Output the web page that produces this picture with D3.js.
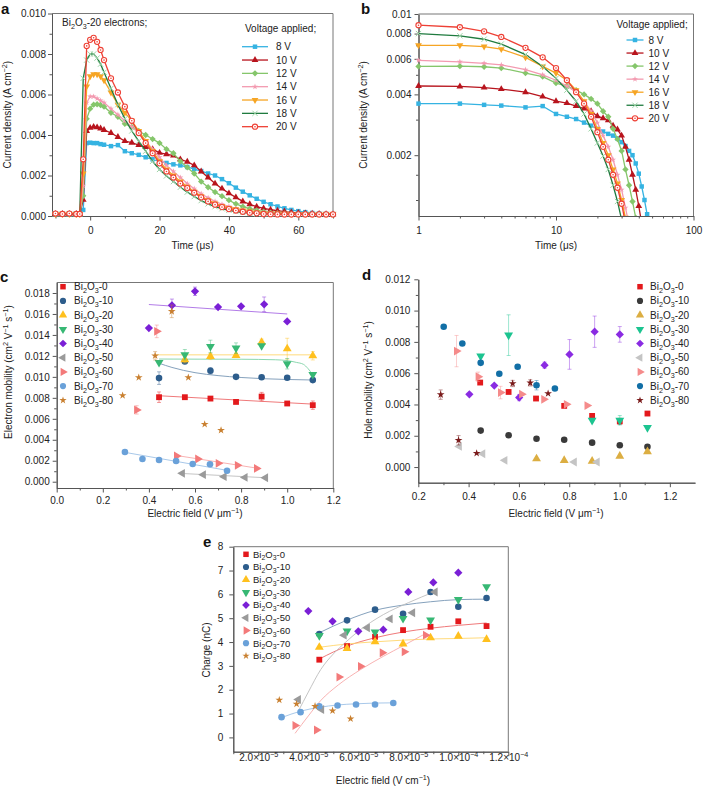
<!DOCTYPE html>
<html>
<head>
<meta charset="utf-8">
<script src="https://cdn.jsdelivr.net/npm/d3@7/dist/d3.min.js"></script>
<style>
  body { margin: 0; background: #fff; }
  svg { font-family: "Liberation Sans", Arial, sans-serif; }
</style>
</head>
<body>
<div id="fig"></div>
<script>
const width = 703
const height = 787
const font = "Liberation Sans, Arial, sans-serif"
const axisColor = "#555"
const boxColor = "#777"

// ---- a, b : transient current density, Bi2O3-20 electrons
const voltages = ["8 V", "10 V", "12 V", "14 V", "16 V", "18 V", "20 V"]
const timeA = [-10, -8, -6, -4, -3, -2, -1, 0, 1, 2, 3, 4, 6, 8, 10, 12, 14, 16, 18, 20, 22, 24, 26, 28, 30,
    32, 34, 36, 38, 40, 42, 44, 46, 48, 50, 52, 54, 56, 58, 60, 62, 64, 66, 68, 70]
const cur8 = [0.0001, 0.0001, 0.00009, 0.0001, 0.0001, 0.0003, 0.0036, 0.00362, 0.0036, 0.0036, 0.00355, 0.00352,
    0.00345, 0.0035, 0.0032, 0.0031, 0.00302, 0.0029, 0.0028, 0.0027, 0.00262, 0.00255, 0.0025, 0.00242, 0.00232,
    0.00222, 0.0021, 0.002, 0.00182, 0.00162, 0.0014, 0.0012, 0.00102, 0.00085, 0.0007, 0.00058, 0.00047, 0.00038,
    0.0003, 0.00024, 0.00019, 0.00015, 0.00012, 0.0001, 0.00009]
const cur10 = [0.0001, 0.0001, 0.0001, 0.0001, 0.0001, 0.0008, 0.0042, 0.00435, 0.0044, 0.00438, 0.00432, 0.00425,
    0.0041, 0.0039, 0.0037, 0.00362, 0.0035, 0.0034, 0.0033, 0.00312, 0.00305, 0.00298, 0.0028, 0.00268, 0.0025,
    0.0022, 0.0019, 0.0016, 0.00135, 0.00112, 0.00092, 0.00072, 0.00058, 0.00046, 0.00038, 0.00031, 0.00026,
    0.00022, 0.00018, 0.00015, 0.00013, 0.00011, 0.0001, 0.00009, 0.00008]
const cur12 = [0.00008, 0.0001, 0.0001, 0.00008, 0.0001, 0.001, 0.0048, 0.0053, 0.0055, 0.00552, 0.00548, 0.0054,
    0.0051, 0.0049, 0.00455, 0.0044, 0.0042, 0.004, 0.0038, 0.0036, 0.0033, 0.0031, 0.0027, 0.0024, 0.0021,
    0.0017, 0.00142, 0.00118, 0.00098, 0.00078, 0.0006, 0.00046, 0.00036, 0.00028, 0.00021, 0.00017, 0.00014,
    0.00012, 0.0001, 0.00009, 0.00009, 0.00008, 0.00008, 0.00008, 0.00008]
const cur14 = [0.0001, 0.0001, 0.0001, 0.0001, 0.0001, 0.0015, 0.0056, 0.0059, 0.0059, 0.0058, 0.0057, 0.0056,
    0.0053, 0.005, 0.0047, 0.0044, 0.0041, 0.0037, 0.0033, 0.0029, 0.0025, 0.0022, 0.0019, 0.0016, 0.00135,
    0.0011, 0.0009, 0.00072, 0.00058, 0.00047, 0.00038, 0.00031, 0.00025, 0.0002, 0.00016, 0.00014, 0.00012,
    0.0001, 0.0001, 0.00009, 0.00009, 0.00008, 0.00008, 0.00008, 0.00008]
const cur16 = [0.0001, 0.0001, 0.0001, 0.0001, 0.0001, 0.0021, 0.0064, 0.0069, 0.007, 0.007, 0.0069, 0.0067,
    0.0061, 0.0055, 0.0051, 0.0047, 0.0042, 0.0037, 0.0032, 0.0027, 0.0023, 0.002, 0.0017, 0.00145, 0.0012,
    0.00098, 0.00078, 0.00062, 0.0005, 0.0004, 0.00033, 0.00027, 0.00022, 0.00018, 0.00015, 0.00013, 0.00012,
    0.00011, 0.0001, 0.0001, 0.0001, 0.0001, 0.0001, 0.0001, 0.0001]
const cur18 = [0.0001, 0.0001, 0.0001, 0.0001, 0.0001, 0.0068, 0.0077, 0.008, 0.008, 0.0078, 0.0075, 0.0071,
    0.0063, 0.0055, 0.0048, 0.0042, 0.0037, 0.0032, 0.0027, 0.0023, 0.00198, 0.0017, 0.00142, 0.00118, 0.00096,
    0.00076, 0.0006, 0.00046, 0.00036, 0.00028, 0.00022, 0.00017, 0.00014, 0.00011, 0.0001, 0.00009, 0.00008,
    0.00008, 0.00008, 0.00008, 0.00008, 0.00008, 0.00008, 0.00008, 0.00008]
const cur20 = [0.00012, 0.0001, 0.00012, 0.0001, 0.0001, 0.0028, 0.0084, 0.0087, 0.0088, 0.0086, 0.0082, 0.0077,
    0.0068, 0.0061, 0.0054, 0.0047, 0.0041, 0.0036, 0.0031, 0.0026, 0.0022, 0.0019, 0.0016, 0.00138, 0.00115,
    0.00092, 0.00072, 0.00056, 0.00044, 0.00034, 0.00027, 0.00021, 0.00016, 0.00013, 0.0001, 0.00009, 0.00008,
    0.00008, 0.00008, 0.00008, 0.00008, 0.00008, 0.00008, 0.00008, 0.00008]
const currents = [cur8, cur10, cur12, cur14, cur16, cur18, cur20]

// ---- c, d, e : [field, value, error]
const samples = ["0", "10", "20", "30", "40", "50", "60", "70", "80"]

const eMob0 = [[0.444, 0.00806, 0.0005], [0.556, 0.00806], [0.667, 0.00793], [0.778, 0.00761], [0.889, 0.00812, 0.0004], [1.0, 0.00746], [1.111, 0.0073, 0.0004]]
const eMob10 = [[0.444, 0.00988, 0.0006], [0.556, 0.01147], [0.667, 0.01058, 0.0003], [0.778, 0.01], [0.889, 0.00997], [1.0, 0.00991], [1.111, 0.00969]]
const eMob20 = [[0.556, 0.01163, 0.0003], [0.667, 0.01195, 0.0003], [0.778, 0.01205], [0.889, 0.0133, 0.0003], [1.0, 0.01268, 0.001], [1.111, 0.01201, 0.0004]]
const eMob30 = [[0.444, 0.01137], [0.556, 0.01211, 0.0005], [0.667, 0.0129, 0.0006], [0.778, 0.01274, 0.0005], [0.889, 0.01297], [1.0, 0.01125, 0.0005], [1.111, 0.01023]]
const eMob40 = [[0.4, 0.01466], [0.5, 0.01682, 0.0006], [0.6, 0.01816, 0.0004], [0.7, 0.01666], [0.8, 0.01673], [0.9, 0.01692, 0.0007], [1.0, 0.01529]]
const eMob50 = [[0.545, 0.0008], [0.636, 0.00067], [0.726, 0.00048], [0.817, 0.00041], [0.906, 0.00038]]
const eMob60 = [[0.347, 0.00685, 0.0004], [0.434, 0.01434, 0.0006], [0.52, 0.00245], [0.612, 0.00217], [0.701, 0.00175], [0.784, 0.00156], [0.867, 0.00127]]
const eMob70 = [[0.296, 0.00284], [0.372, 0.00217], [0.444, 0.00207], [0.518, 0.00198], [0.59, 0.00169], [0.665, 0.00166], [0.739, 0.00105]]
const eMob80 = [[0.286, 0.00822], [0.356, 0.00994], [0.427, 0.01201, 0.0004], [0.499, 0.01625, 0.0006], [0.571, 0.00994], [0.642, 0.00548], [0.713, 0.00491]]
const eMob = [eMob0, eMob10, eMob20, eMob30, eMob40, eMob50, eMob60, eMob70, eMob80]

// fitted curves drawn in c, [sample index, points]
const eFit0 = [[0.444, 0.0082], [1.111, 0.0074]]
const eFit10 = [[0.444, 0.0113], [0.5, 0.0109], [0.6, 0.0104], [0.7, 0.01012], [0.8, 0.00994], [0.9, 0.00982], [1.0, 0.00975], [1.111, 0.0097]]
const eFit20 = [[0.43, 0.0121], [1.111, 0.0121]]
const eFit30 = [[0.444, 0.0117], [0.6, 0.01169], [0.8, 0.01168], [0.95, 0.01163], [1.0, 0.01155], [1.04, 0.01138], [1.07, 0.0112], [1.09, 0.0108], [1.111, 0.0102]]
const eFit40 = [[0.4, 0.0169], [1.0, 0.016]]
const eFit50 = [[0.53, 0.0008], [0.906, 0.00038]]
const eFit60 = [[0.52, 0.0025], [0.867, 0.0013]]
const eFit70 = [[0.296, 0.0028], [0.74, 0.00108]]
const eFits = [[0, eFit0], [1, eFit10], [2, eFit20], [3, eFit30], [4, eFit40], [5, eFit50], [6, eFit60], [7, eFit70]]

const hMob0 = [[0.446, 0.0054], [0.559, 0.0048], [0.668, 0.00438], [0.78, 0.00391], [0.891, 0.00327], [1.001, 0.00292, 0.0002], [1.111, 0.00342]]
const hMob10 = [[0.448, 0.00233], [0.559, 0.00203], [0.67, 0.00181], [0.78, 0.00175], [0.891, 0.00156], [1.001, 0.00139], [1.111, 0.0013]]
const hMob20 = [[0.67, 0.00053], [0.78, 0.00043], [0.891, 0.00038], [1.001, 0.0007], [1.111, 0.00098]]
const hMob30 = [[0.448, 0.00709], [0.559, 0.00843, 0.0013], [0.891, 0.00299], [1.001, 0.00299, 0.0003], [1.111, 0.00252]]
const hMob40 = [[0.403, 0.00465], [0.502, 0.00521], [0.601, 0.00444, 0.0002], [0.702, 0.00651, 0.0002], [0.801, 0.0072, 0.00095], [0.901, 0.00865, 0.001], [1.001, 0.00848, 0.0005]]
const hMob50 = [[0.363, 0.00132], [0.456, 0.00085], [0.544, 0.00043], [0.82, 0.00032], [0.911, 0.00032]]
const hMob60 = [[0.352, 0.00741, 0.001], [0.438, 0.00577, 0.0003], [0.527, 0.00476, 0.0004], [0.611, 0.00466], [0.699, 0.00433], [0.789, 0.00401], [0.871, 0.00393]]
const hMob70 = [[0.301, 0.00897], [0.375, 0.0079], [0.448, 0.00666], [0.522, 0.00596], [0.595, 0.00641], [0.67, 0.00523, 0.0003], [0.743, 0.00502]]
const hMob80 = [[0.289, 0.00463, 0.0003], [0.36, 0.00171, 0.0003], [0.432, 0.00088], [0.575, 0.00534, 0.0002], [0.645, 0.00538, 0.0002], [0.716, 0.0047]]
const hMob = [hMob0, hMob10, hMob20, hMob30, hMob40, hMob50, hMob60, hMob70, hMob80]

const chg0 = [[4.44e-5, 3.26], [5.55e-5, 3.83], [6.67e-5, 4.22], [7.79e-5, 4.5], [8.89e-5, 4.64], [1.0e-4, 4.87], [1.113e-4, 4.67]]
const chg10 = [[4.44e-5, 4.34], [5.55e-5, 4.91], [6.67e-5, 5.36], [7.79e-5, 5.19], [8.89e-5, 6.1], [1.0e-4, 5.48], [1.113e-4, 5.85]]
const chg20 = [[4.44e-5, 3.78], [5.55e-5, 3.73], [6.67e-5, 4.01], [7.79e-5, 3.92], [8.89e-5, 4.18], [1.0e-4, 4.25], [1.113e-4, 4.11]]
const chg30 = [[4.44e-5, 4.27], [5.55e-5, 4.46], [6.67e-5, 4.42], [7.79e-5, 4.99], [8.89e-5, 4.92], [1.0e-4, 5.78], [1.113e-4, 6.32]]
const chg40 = [[4.0e-5, 5.3], [4.97e-5, 4.87], [6.0e-5, 4.45], [7.0e-5, 4.52], [8.0e-5, 6.1], [9.0e-5, 6.5], [1.0e-4, 6.91]]
const chg50 = [[3.6e-5, 1.59], [4.53e-5, 1.17], [5.43e-5, 4.29], [6.36e-5, 4.6], [7.27e-5, 4.97], [8.17e-5, 5.23], [9.07e-5, 6.1]]
const chg60 = [[3.47e-5, 0.5], [4.33e-5, 0.31], [5.23e-5, 2.53], [6.09e-5, 2.98], [6.96e-5, 3.55], [7.84e-5, 3.59], [8.69e-5, 4.29]]
const chg70 = [[2.93e-5, 0.85], [3.69e-5, 1.06], [4.44e-5, 1.31], [5.17e-5, 1.34], [5.91e-5, 1.38], [6.67e-5, 1.38], [7.4e-5, 1.44]]
const chg80 = [[2.84e-5, 1.57], [3.53e-5, 1.4], [4.27e-5, 1.31], [4.97e-5, 1.12], [5.69e-5, 0.78]]
const charge = [chg0, chg10, chg20, chg30, chg40, chg50, chg60, chg70, chg80]

const qFit0 = [[4.44e-5, 3.29], [5.55e-5, 3.83], [6.67e-5, 4.18], [7.79e-5, 4.42], [8.89e-5, 4.58], [1.0e-4, 4.7], [1.113e-4, 4.8]]
const qFit10 = [[4.44e-5, 4.39], [5.55e-5, 4.92], [6.67e-5, 5.33], [7.79e-5, 5.55], [8.89e-5, 5.69], [1.0e-4, 5.78], [1.113e-4, 5.8]]
const qFit20 = [[4.44e-5, 3.78], [5.55e-5, 3.92], [6.67e-5, 4.01], [7.79e-5, 4.08], [8.89e-5, 4.13], [1.0e-4, 4.15], [1.113e-4, 4.18]]
const qFit50 = [[3.6e-5, 1.1], [4.0e-5, 1.9], [4.5e-5, 2.85], [5.0e-5, 3.5], [5.5e-5, 4.0], [6.0e-5, 4.45], [7.0e-5, 5.15], [8.0e-5, 5.65], [9.07e-5, 6.12]]
const qFit60 = [[3.47e-5, 0.17], [4.0e-5, 0.9], [4.5e-5, 1.55], [5.2e-5, 2.2], [6.1e-5, 2.85], [7.0e-5, 3.4], [7.8e-5, 3.85], [8.7e-5, 4.36]]
const qFit70 = [[2.93e-5, 0.83], [3.69e-5, 1.1], [4.44e-5, 1.26], [5.17e-5, 1.36], [5.91e-5, 1.41], [6.67e-5, 1.44], [7.4e-5, 1.45]]
const qFits = [[0, qFit0], [1, qFit10], [2, qFit20], [5, qFit50], [6, qFit60], [7, qFit70]]

// ---- styles
const colA = ["#35b3e2", "#b8141d", "#85c66b", "#f39ab0", "#f6a524", "#1f7b3f", "#ee4035"]
const markColA = ["#35b3e2", "#b8141d", "#85c66b", "#f39ab0", "#f6a524", "#9ed5a8", "#ee4035"]
const markA = ["square", "up", "diamond", "star", "down", "times", "ocircle"]
const markS = ["square", "circle", "up", "down", "diamond", "left", "right", "circle", "star"]
const colCE = ["#e3191c", "#2d5d8c", "#ffc01e", "#37b874", "#7a1fd6", "#9a9a9a", "#f37a7a", "#6aa1d9", "#c98030"]
const colD = ["#e3191c", "#3a3a3a", "#dcae42", "#1cc490", "#8a2be2", "#c4c4c4", "#f58b8b", "#126fa6", "#7a1b1b"]

const svg = d3.select("#fig").append("svg")
    .attr("width", width)
    .attr("height", height)
    .style("background", "#fff")

// ---------- helpers
function rich(sel, parts, fs) {
    let cur = 0
    parts.forEach(p => {
        const [s, m] = Array.isArray(p) ? p : [p]
        const off = m === "sub" ? fs * 0.3 : m === "sup" ? -fs * 0.38 : 0
        const t = sel.append("tspan").text(s).attr("dy", off - cur)
        if (m) t.attr("font-size", fs * 0.72)
        cur = off
    })
}

function biLabel(n) {
    return ["Bi", ["2", "sub"], "O", ["3", "sub"], "-" + n]
}

const shapes = {
    square: [d3.symbolSquare, 0], circle: [d3.symbolCircle, 0], up: [d3.symbolTriangle, 0],
    down: [d3.symbolTriangle, 180], left: [d3.symbolTriangle, -90], right: [d3.symbolTriangle, 90],
    diamond: [d3.symbolSquare, 45], star: [d3.symbolStar, 0], times: [d3.symbolTimes || d3.symbolCross, 0]
}

function marker(g, kind, cx, cy, color, size) {
    if (kind === "ocircle") {
        g.append("circle").attr("cx", cx).attr("cy", cy).attr("r", 2.6)
            .attr("fill", "#fff").attr("stroke", color).attr("stroke-width", 1.1)
        g.append("circle").attr("cx", cx).attr("cy", cy).attr("r", 0.8).attr("fill", color)
        return
    }
    const [sym, rot] = shapes[kind]
    const p = g.append("path")
        .attr("d", d3.symbol(sym, kind === "star" ? size * 0.55 : size)())
        .attr("transform", `translate(${cx},${cy}) rotate(${rot})`)
    if (kind === "times") p.attr("fill", "none").attr("stroke", color).attr("stroke-width", 1)
    else p.attr("fill", color)
}

function drawAxes(g, x, y, o) {
    const [xl, xr] = x.range()
    const [yb, yt] = y.range()
    const fs = o.fs || 10
    const tidy = s => {
        s.attr("font-family", font).attr("font-size", fs)
        s.select(".domain").attr("stroke", axisColor)
        s.selectAll(".tick line").attr("stroke", axisColor)
        s.selectAll(".tick text").attr("fill", "#222")
    }
    g.append("g").attr("transform", `translate(0,${yb})`)
        .call(d3.axisBottom(x).tickValues(o.xMinor).tickSize(2.5).tickSizeOuter(0).tickFormat(""))
        .call(tidy)
    const xAxis = g.append("g").attr("transform", `translate(0,${yb})`)
        .call(d3.axisBottom(x).tickValues(o.xMajor).tickSize(4.5).tickSizeOuter(0).tickPadding(o.xPad).tickFormat(o.xFmt))
        .call(tidy)
    g.append("g").attr("transform", `translate(${xl},0)`)
        .call(d3.axisLeft(y).tickValues(o.yMinor).tickSize(2.5).tickSizeOuter(0).tickFormat(""))
        .call(tidy)
    g.append("g").attr("transform", `translate(${xl},0)`)
        .call(d3.axisLeft(y).tickValues(o.yMajor).tickSize(4).tickSizeOuter(0).tickPadding(o.yPad).tickFormat(o.yFmt))
        .call(tidy)
    if (o.box) {
        g.append("path").attr("d", `M${xl},${yt}H${xr}V${yb}`)
            .attr("fill", "none").attr("stroke", boxColor)
    }
    return xAxis
}

function title(g, x, y, parts, rotate, fs) {
    const t = g.append("text").attr("text-anchor", "middle").attr("font-size", fs).attr("fill", "#222")
    if (rotate) t.attr("transform", `translate(${x},${y}) rotate(-90)`)
    else t.attr("x", x).attr("y", y)
    rich(t, parts, fs)
}

function letter(x, y, s) {
    svg.append("text").attr("x", x).attr("y", y).attr("font-size", 15)
        .attr("font-weight", "bold").attr("fill", "#111").text(s)
}

function drawScatter(g, x, y, sets, colors, fits, fitColors) {
    const line = d3.line().x(d => x(d[0])).y(d => y(d[1])).curve(d3.curveMonotoneX)
    fits.forEach(([i, pts]) => {
        g.append("path").datum(pts).attr("d", line)
            .attr("fill", "none").attr("stroke", fitColors[i]).attr("stroke-width", 0.9)
    })
    sets.forEach((pts, i) => {
        pts.filter(d => d[2]).forEach(d => {
            const x0 = x(d[0]), ya = y(d[1] - d[2]), yb = y(d[1] + d[2])
            g.append("path").attr("d", `M${x0},${ya}V${yb}M${x0 - 2},${ya}h4M${x0 - 2},${yb}h4`)
                .attr("stroke", colors[i]).attr("stroke-opacity", 0.55).attr("fill", "none").attr("stroke-width", 0.8)
        })
        pts.forEach(d => marker(g, markS[i], x(d[0]), y(d[1]), colors[i], 34))
    })
}

function sampleLegend(g, mx, tx, y0, dy, colors, fs) {
    samples.forEach((s, i) => {
        const yy = y0 + i * dy
        marker(g, markS[i], mx, yy, colors[i], 30)
        const t = g.append("text").attr("x", tx).attr("y", yy + fs * 0.35).attr("font-size", fs).attr("fill", "#222")
        rich(t, biLabel(s), fs)
    })
}

const light = c => d3.interpolateRgb(c, "#ffffff")(0.35)

// ---------- panel a
const xA = d3.scaleLinear([-11, 70], [52, 333])
const yA = d3.scaleLinear([0, 0.010], [216, 13.5])
const gA = svg.append("g")
drawAxes(gA, xA, yA, {
    xMajor: [0, 20, 40, 60], xMinor: [-10, 10, 30, 50, 70], xFmt: d3.format("d"), xPad: 6,
    yMajor: d3.range(0, 0.0101, 0.002), yMinor: d3.range(0.001, 0.01, 0.002), yFmt: d3.format(".3f"), yPad: 2,
    box: true
})
const lineA = d3.line().x(d => xA(d[0])).y(d => yA(d[1]))
currents.forEach((vals, i) => {
    const pts = timeA.map((t, j) => [t, vals[j]])
    gA.append("path").datum(pts).attr("d", lineA)
        .attr("fill", "none").attr("stroke", colA[i]).attr("stroke-width", 1.3)
    pts.forEach(d => marker(gA, markA[i], xA(d[0]), yA(d[1]), markColA[i], 20))
})
const tA = gA.append("text").attr("x", 62).attr("y", 26).attr("font-size", 10).attr("fill", "#222")
rich(tA, ["Bi", ["2", "sub"], "O", ["3", "sub"], "-20 electrons;"], 10)

function voltageLegend(g, tx, ty, x1, x2, tx2, y0, dy) {
    g.append("text").attr("x", tx).attr("y", ty).attr("font-size", 10).attr("fill", "#222").text("Voltage applied;")
    voltages.forEach((v, i) => {
        const yy = y0 + i * dy
        g.append("line").attr("x1", x1).attr("x2", x2).attr("y1", yy).attr("y2", yy)
            .attr("stroke", colA[i]).attr("stroke-width", 1.3)
        marker(g, markA[i], (x1 + x2) / 2, yy, markColA[i], 20)
        g.append("text").attr("x", tx2).attr("y", yy + 3.5).attr("font-size", 10).attr("fill", "#222").text(v)
    })
}
voltageLegend(gA, 245, 31.5, 242, 268, 276, 46.7, 13.33)
title(gA, 11, 114.7, ["Current density (A cm", ["\u22122", "sup"], ")"], true, 10)
title(gA, 192.5, 249, ["Time (\u03bcs)"], false, 10)
letter(1, 14, "a")

// ---------- panel b
const xB = d3.scaleLog([1, 100], [418.5, 693.5])
const yB = d3.scaleLog([0.001, 0.01], [216, 14])
const gB = svg.append("g")
drawAxes(gB, xB, yB, {
    xMajor: [1, 10, 100], xMinor: [2, 3, 4, 5, 6, 7, 8, 9, 20, 30, 40, 50, 60, 70, 80, 90], xFmt: d3.format("d"), xPad: 6,
    yMajor: [0.002, 0.004, 0.006, 0.008, 0.01], yMinor: [0.0012, 0.0016, 0.003, 0.005, 0.007, 0.009],
    yFmt: d3.format("~g"), yPad: 3, box: true
})
svg.append("clipPath").attr("id", "clipB").append("rect")
    .attr("x", 414).attr("y", 10).attr("width", 284).attr("height", 206)
const plotB = gB.append("g").attr("clip-path", "url(#clipB)")
const lineB = d3.line().x(d => xB(d[0])).y(d => yB(d[1]))
currents.forEach((vals, i) => {
    const pts = timeA.map((t, j) => [t, vals[j]]).filter(d => d[0] >= 1)
    plotB.append("path").datum(pts).attr("d", lineB)
        .attr("fill", "none").attr("stroke", colA[i]).attr("stroke-width", 1.3)
    pts.forEach(d => marker(plotB, markA[i], xB(d[0]), yB(d[1]), markColA[i], 20))
})
voltageLegend(gB, 616.5, 27.5, 626.5, 643.5, 648.5, 40, 13.05)
title(gB, 367, 115, ["Current density (A cm", ["\u22122", "sup"], ")"], true, 10)
title(gB, 556, 249, ["Time (\u03bcs)"], false, 10)
letter(361, 14, "b")

// ---------- panel c
const xC = d3.scaleLinear([0, 1.2], [56.7, 333.3])
const yC = d3.scaleLinear([-0.0006, 0.019], [488, 282.5])
const gC = svg.append("g")
drawAxes(gC, xC, yC, {
    xMajor: d3.range(0, 1.21, 0.2), xMinor: d3.range(0.1, 1.2, 0.2), xFmt: d3.format(".1f"), xPad: 4,
    yMajor: d3.range(0, 0.0181, 0.002), yMinor: d3.range(0.001, 0.019, 0.002), yFmt: d3.format(".3f"), yPad: 3,
    box: true
})
drawScatter(gC, xC, yC, eMob, colCE, eFits, colCE.map(light))
sampleLegend(gC, 63, 74, 286.7, 14.2, colCE, 10)
title(gC, 12, 372, ["Electron mobility (cm", ["2", "sup"], " V", ["\u22121", "sup"], " s", ["\u22121", "sup"], ")"], true, 10)
title(gC, 195, 517, ["Electric field (V \u03bcm", ["\u22121", "sup"], ")"], false, 10)
letter(0, 282, "c")

// ---------- panel d
const xD = d3.scaleLinear([0.2, 1.3], [418.3, 695])
const yD = d3.scaleLinear([-0.001, 0.012], [482.7, 279.3])
const gD = svg.append("g")
drawAxes(gD, xD, yD, {
    xMajor: d3.range(0.2, 1.21, 0.2), xMinor: d3.range(0.3, 1.2, 0.2), xFmt: d3.format(".1f"), xPad: 6,
    yMajor: d3.range(0, 0.0121, 0.002), yMinor: d3.range(0.001, 0.012, 0.002), yFmt: d3.format(".3f"), yPad: 4,
    box: false
})
drawScatter(gD, xD, yD, hMob, colD, [], colD)
sampleLegend(gD, 640, 650, 286.7, 14.2, colD, 10)
title(gD, 372, 380, ["Hole mobility (cm", ["2", "sup"], " V", ["\u22121", "sup"], " s", ["\u22121", "sup"], ")"], true, 10)
title(gD, 556, 517, ["Electric field (V \u03bcm", ["\u22121", "sup"], ")"], false, 10)
letter(362, 280, "d")

// ---------- panel e
const xE = d3.scaleLinear([1e-5, 1.2e-4], [233.3, 508.3])
const yE = d3.scaleLinear([-0.6, 8], [751.7, 546.7])
const gE = svg.append("g")
const xAxisE = drawAxes(gE, xE, yE, {
    xMajor: d3.range(2e-5, 1.21e-4, 2e-5), xMinor: d3.range(1e-5, 1.2e-4, 2e-5), xFmt: d3.format(".1e"), xPad: 5,
    yMajor: d3.range(0, 8.1, 1), yMinor: [], yFmt: d3.format("d"), yPad: 6,
    box: true, fs: 10
})
xAxisE.selectAll(".tick text").each(function (d) {
    const [mant, ex] = d3.format(".1e")(d).split("e")
    const t = d3.select(this).text(null)
    rich(t, [mant + "\u00d710", [ex.replace("-", "\u2212"), "sup"]], 10)
})
drawScatter(gE, xE, yE, charge, colCE, qFits, colCE.map(light))
sampleLegend(gE, 246, 253, 554.3, 12.7, colCE, 9.5)
title(gE, 210, 650, ["Charge (nC)"], true, 10)
title(gE, 383, 784, ["Electric field (V cm", ["\u22121", "sup"], ")"], false, 10)
letter(203, 546.5, "e")
</script>
</body>
</html>
